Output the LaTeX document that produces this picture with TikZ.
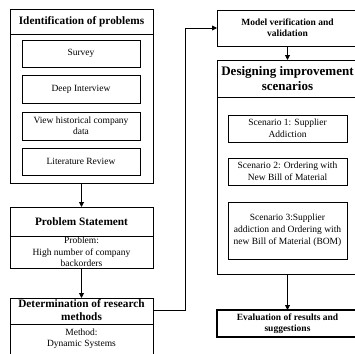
\documentclass[tikz,border=0pt]{standalone}
\usepackage{fontspec}
\setmainfont{Liberation Serif}
\usetikzlibrary{arrows.meta}
\begin{document}
\begin{tikzpicture}[x=1pt,y=-1pt,
  box/.style={draw, line width=0.8pt, inner sep=0pt, outer sep=0pt},
  ibox/.style={draw, line width=0.7pt, inner sep=0pt, outer sep=0pt},
  hd/.style={font=\fontsize{11.3}{13}\selectfont\bfseries, align=center, inner sep=0pt},
  hdsmall/.style={font=\fontsize{9.5}{11}\selectfont\bfseries, align=center, inner sep=0pt},
  hdbig/.style={font=\fontsize{13}{15}\selectfont\bfseries, align=center, inner sep=0pt},
  txt/.style={font=\fontsize{9.5}{11.3}\selectfont, align=center, inner sep=0pt},
  stxt/.style={font=\fontsize{9.5}{12}\selectfont, align=center, inner sep=0pt},
  arr/.style={-{Triangle[length=5pt,width=5pt]}, line width=0.9pt}]
\useasboundingbox (0,0) rectangle (355,353);
\clip (0,0) rectangle (355,353);

% ---- left column ----
\node[box, minimum width=143pt, minimum height=174pt] (idp) at (81.5,96) {};
\draw[line width=0.8pt] (idp.north west) ++(0,25) -- ++(143,0);
\node[hd] (idpt) at (81.5,22) {Identification of problems};
\node[ibox, txt, minimum width=118pt, minimum height=27pt] (sv) at (81,53.5) {Survey};
\node[ibox, txt, minimum width=118pt, minimum height=28pt] (di) at (81,89) {Deep Interview};
\node[ibox, txt, minimum width=118pt, minimum height=28pt] (vh) at (81,126) {View historical company\\data};
\node[ibox, txt, minimum width=118pt, minimum height=27pt] (lr) at (81,161.5) {Literature Review};

\node[box, minimum width=143pt, minimum height=61pt] (ps) at (81.5,237.5) {};
\draw[line width=0.8pt] (ps.north west) ++(0,29) -- ++(143,0);
\node[hd] (pst) at (81.5,222) {Problem Statement};
\node[txt] (psb) at (81.5,252) {Problem:\\High number of company\\backorders};

\node[box, minimum width=143pt, minimum height=62pt] (dr) at (81.5,329) {};
\draw[line width=0.8pt] (dr.north west) ++(0,26) -- ++(143,0);
\node[hd] (drt) at (81.5,310.5) {Determination of research\\methods};
\node[txt] (drb) at (81.5,338.5) {Method:\\Dynamic Systems};

\draw[arr] (idp.south) -- (ps.north);
\draw[arr] (ps.south) -- (dr.north);

% ---- right column ----
\node[box, hdsmall, minimum width=141pt, minimum height=36pt] (mv) at (287.5,28) {Model verification and\\validation};

\node[box, minimum width=141pt, minimum height=214pt] (dis) at (287.5,167) {};
\draw[line width=0.8pt] (dis.north west) ++(0,37) -- ++(141,0);
\node[hdbig] (dist) at (287.5,78.5) {Designing improvement\\scenarios};
\node[ibox, stxt, minimum width=119pt, minimum height=27pt] (sc1) at (287.5,128.5) {Scenario 1: Supplier\\Addiction};
\node[ibox, stxt, minimum width=119pt, minimum height=27pt] (sc2) at (287.5,171.5) {Scenario 2: Ordering with\\New Bill of Material};
\node[ibox, stxt, minimum width=119pt, minimum height=57pt] (sc3) at (287.5,230.5) {Scenario 3:Supplier\\addiction and Ordering with\\new Bill of Material (BOM)};

\node[box, hdsmall, line width=1.2pt, minimum width=141pt, minimum height=27pt] (ev) at (287.5,323.5) {Evaluation of results and\\suggestions};

\draw[arr] (mv.south) -- (dis.north);
\draw[arr] (dis.south) -- (ev.north);

% ---- connector ----
\coordinate (c1) at (185,310);
\coordinate (c2) at (185,28);
\draw[arr] (dr.east |- c1) -- (c1) -- (c2) -- (mv.west);
\end{tikzpicture}
\end{document}
